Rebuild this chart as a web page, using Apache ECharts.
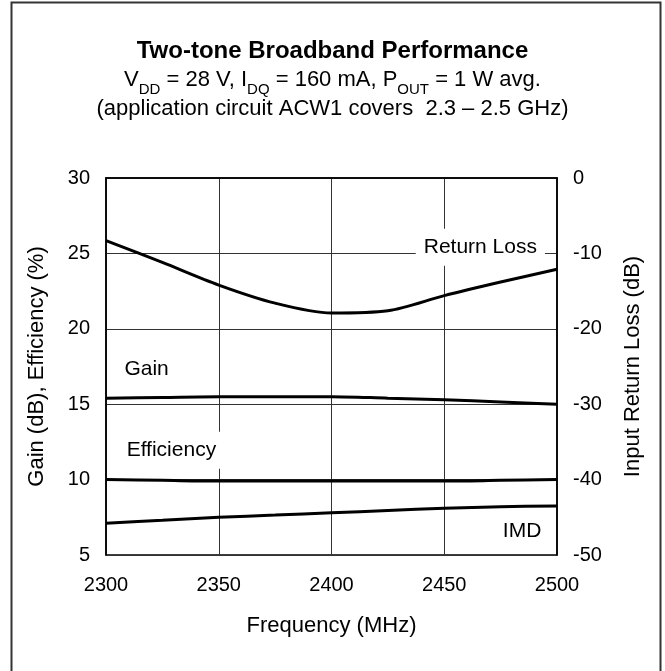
<!DOCTYPE html>
<html>
<head>
<meta charset="utf-8">
<script src="https://cdn.jsdelivr.net/npm/echarts@6/dist/echarts.min.js"></script>
<style>
  html, body { margin: 0; padding: 0; background: #fff; }
  #chart { width: 665px; height: 671px; }
</style>
</head>
<body>
<div id="chart"></div>
<script>
// frequency points (MHz)
var freqs = [2300, 2325, 2350, 2375, 2400, 2425, 2450, 2475, 2500];
// left axis: Gain (dB), Efficiency (%), IMD
var gain = [15.4, 15.45, 15.5, 15.5, 15.5, 15.4, 15.3, 15.15, 15.0];
var efficiency = [10.0, 9.95, 9.9, 9.9, 9.9, 9.9, 9.9, 9.95, 10.0];
var imd = [7.1, 7.3, 7.5, 7.65, 7.8, 7.95, 8.1, 8.2, 8.25];
// right axis: input return loss (dB)
var returnLoss = [-8.3, -11.2, -14.2, -16.6, -17.9, -17.6, -15.6, -13.8, -12.1];

var xTicks = [2300, 2350, 2400, 2450, 2500];
var leftTicks = [5, 10, 15, 20, 25, 30];
var rightTicks = [-50, -40, -30, -20, -10, 0];

var FONT = "'Liberation Sans', Arial, sans-serif";

function pairs(ys) {
  return freqs.map(function (f, i) { return [f, ys[i]]; });
}

function lineSeries(name, ys, axis, label, at) {
  return {
    name: name,
    type: "line",
    yAxisIndex: axis,
    data: pairs(ys),
    smooth: 0.3,
    symbol: "none",
    lineStyle: { color: "#000", width: 3 },
    z: 3,
    markPoint: {
      symbol: "rect",
      symbolSize: 0,
      silent: true,
      data: [{ coord: at, value: label }],
      label: {
        show: true,
        position: "inside",
        formatter: label,
        fontFamily: FONT,
        fontSize: 21,
        color: "#000",
        backgroundColor: "#fff",
        padding: [8, 8]
      }
    }
  };
}

var chart = echarts.init(document.getElementById("chart"), null, { renderer: "canvas" });

var option = {
  backgroundColor: "#fff",
  animation: false,
  title: [
    {
      text: "Two-tone Broadband Performance",
      left: "center",
      top: 34,
      textStyle: { fontFamily: FONT, fontSize: 24, fontWeight: "bold", color: "#000" }
    },
    {
      text: "{n|V}{s|DD}{n| = 28 V, I}{s|DQ}{n| = 160 mA, P}{s|OUT}{n| = 1 W avg.}",
      left: "center",
      top: 58,
      textStyle: {
        fontWeight: "normal",
        rich: {
          n: { fontFamily: FONT, fontSize: 22, fontWeight: "normal", color: "#000", lineHeight: 34, verticalAlign: "middle" },
          s: { fontFamily: FONT, fontSize: 15, fontWeight: "normal", color: "#000", lineHeight: 11, verticalAlign: "bottom" }
        }
      }
    },
    {
      text: "(application circuit ACW1 covers  2.3 \u2013 2.5 GHz)",
      left: "center",
      top: 93,
      textStyle: { fontFamily: FONT, fontSize: 22, fontWeight: "normal", color: "#000" }
    }
  ],
  graphic: [
    {
      type: "rect",
      shape: { x: 11.5, y: 2.5, width: 649, height: 680 },
      style: { fill: null, stroke: "#333", lineWidth: 2 },
      silent: true
    }
  ],
  grid: {
    left: 106,
    right: 108,
    top: 178,
    bottom: 116,
    show: true,
    borderColor: "#000",
    borderWidth: 1.5,
    backgroundColor: "transparent"
  },
  xAxis: {
    type: "value",
    min: xTicks[0],
    max: xTicks[xTicks.length - 1],
    interval: 50,
    name: "Frequency (MHz)",
    nameLocation: "middle",
    nameGap: 60,
    nameTextStyle: { fontFamily: FONT, fontSize: 22, color: "#000" },
    axisLine: { show: true, lineStyle: { color: "#000", width: 1.5 } },
    axisTick: { show: false },
    axisLabel: {
      fontFamily: FONT, fontSize: 20, color: "#000", margin: 20,
      formatter: function (v) { return String(v); }
    },
    splitLine: { show: true, lineStyle: { color: "#333", width: 1 } }
  },
  yAxis: [
    {
      type: "value",
      min: leftTicks[0],
      max: leftTicks[leftTicks.length - 1],
      interval: 5,
      name: "Gain (dB), Efficiency (%)",
      nameLocation: "middle",
      nameGap: 58,
      nameTextStyle: { fontFamily: FONT, fontSize: 22, color: "#000" },
      axisLine: { show: true, lineStyle: { color: "#000", width: 1.5 } },
      axisTick: { show: false },
      axisLabel: { fontFamily: FONT, fontSize: 20, color: "#000", margin: 16 },
      splitLine: { show: true, lineStyle: { color: "#333", width: 1 } }
    },
    {
      type: "value",
      position: "right",
      min: rightTicks[0],
      max: rightTicks[rightTicks.length - 1],
      interval: 10,
      name: "Input Return Loss (dB)",
      nameLocation: "middle",
      nameGap: 65,
      nameRotate: 90,
      nameTextStyle: { fontFamily: FONT, fontSize: 22, color: "#000" },
      axisLine: { show: true, lineStyle: { color: "#000", width: 1.5 } },
      axisTick: { show: false },
      axisLabel: { fontFamily: FONT, fontSize: 20, color: "#000", margin: 16 },
      splitLine: { show: false }
    }
  ],
  series: [
    lineSeries("Return Loss", returnLoss, 1, "Return Loss", [2466, -9.2]),
    lineSeries("Gain", gain, 0, "Gain", [2318, 17.3]),
    lineSeries("Efficiency", efficiency, 0, "Efficiency", [2329, 11.95]),
    lineSeries("IMD", imd, 0, "IMD", [2484.5, 6.6])
  ]
};

chart.setOption(option);
</script>
</body>
</html>
